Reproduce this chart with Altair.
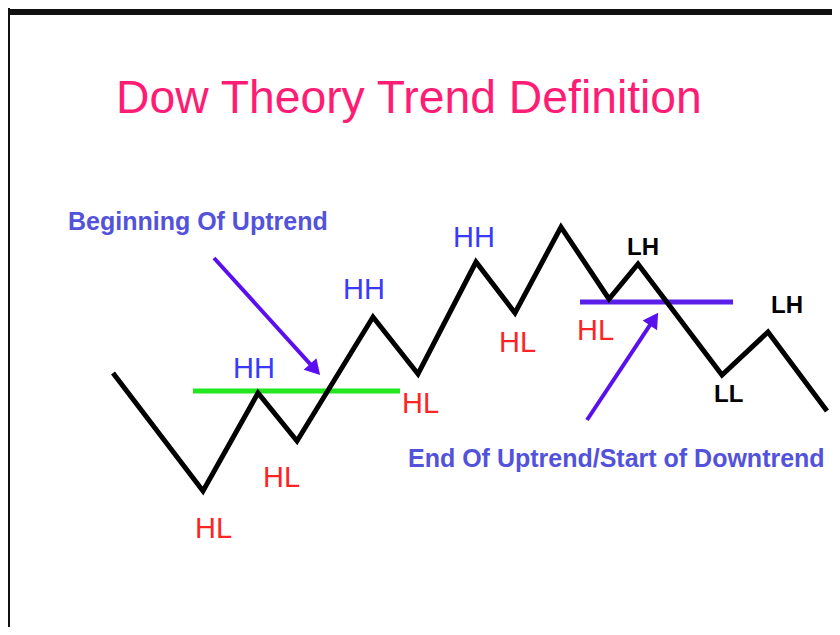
import altair as alt
import pandas as pd

# Price path (x = time position, price = level; higher price = higher on chart)
path_x = [113, 203, 258, 297, 373, 418, 476, 515, 561, 609, 638, 722, 768, 827]
path_price = [262, 144, 242, 194, 318, 261, 373, 322, 408, 336, 371, 260, 303, 224]

# Horizontal reference levels
level_x = [193, 580]
level_x2 = [400, 733]
level_price = [244, 333]
level_color = ["#22E61E", "#5B1FEA"]

# Arrows (start -> head)
arrow_x = [214, 587]
arrow_price = [377, 215]
arrow_x2 = [313.4, 652.6]
arrow_price2 = [267.3, 313.8]
arrow_angle = [137.8, 33.6]

# Frame
frame_x = [8, 8]
frame_x2 = [832, 8]
frame_price = [623, 627]
frame_price2 = [623, 8]
frame_w = [6, 4]

# Regular text
reg_text = ["Dow Theory Trend Definition",
            "HH", "HH", "HH",
            "HL", "HL", "HL", "HL", "HL"]
reg_x = [116, 233, 343, 453, 195, 263, 402, 499, 577]
reg_price = [522, 257, 336, 388, 97, 148, 222, 283, 295]
reg_size = [46.3, 29, 29, 29, 29, 29, 29, 29, 29]
reg_color = ["#FF1C74", "#3A3AFF", "#3A3AFF", "#3A3AFF",
             "#FF2424", "#FF2424", "#FF2424", "#FF2424", "#FF2424"]

# Bold text
bold_text = ["Beginning Of Uptrend", "End Of Uptrend/Start of Downtrend",
             "LH", "LH", "LL"]
bold_x = [68, 408, 627, 771, 714]
bold_price = [405, 168, 380, 322, 233]
bold_size = [25, 25, 24, 24, 24]
bold_color = ["#5252DA", "#5252DA", "#000000", "#000000", "#000000"]

X = alt.Scale(domain=[8, 832])
Y = alt.Scale(domain=[8, 627])

path_df = pd.DataFrame({"x": path_x, "price": path_price, "i": list(range(len(path_x)))})
level_df = pd.DataFrame({"x": level_x, "x2": level_x2, "price": level_price, "c": level_color})
arrow_df = pd.DataFrame({"x": arrow_x, "price": arrow_price, "x2": arrow_x2,
                         "price2": arrow_price2, "angle": arrow_angle})
frame_df = pd.DataFrame({"x": frame_x, "x2": frame_x2, "price": frame_price,
                         "price2": frame_price2, "w": frame_w})
reg_df = pd.DataFrame({"t": reg_text, "x": reg_x, "price": reg_price, "s": reg_size, "c": reg_color})
bold_df = pd.DataFrame({"t": bold_text, "x": bold_x, "price": bold_price, "s": bold_size, "c": bold_color})

ax = dict(axis=None)

frame = alt.Chart(frame_df).mark_rule(color="#111111").encode(
    x=alt.X("x:Q", scale=X, **ax), x2="x2:Q",
    y=alt.Y("price:Q", scale=Y, **ax), y2="price2:Q",
    strokeWidth=alt.StrokeWidth("w:Q", scale=None),
)

levels = alt.Chart(level_df).mark_rule(strokeWidth=5).encode(
    x=alt.X("x:Q", scale=X, **ax), x2="x2:Q",
    y=alt.Y("price:Q", scale=Y, **ax),
    color=alt.Color("c:N", scale=None),
)

path = alt.Chart(path_df).mark_line(color="black", strokeWidth=5, strokeJoin="miter",
                                    strokeCap="butt").encode(
    x=alt.X("x:Q", scale=X, **ax),
    y=alt.Y("price:Q", scale=Y, **ax),
    order="i:Q",
)

shafts = alt.Chart(arrow_df).mark_rule(color="#5A10EE", strokeWidth=4).encode(
    x=alt.X("x:Q", scale=X, **ax), x2="x2:Q",
    y=alt.Y("price:Q", scale=Y, **ax), y2="price2:Q",
)

heads = alt.Chart(arrow_df).mark_point(shape="triangle", filled=True, color="#5A10EE",
                                       size=300, opacity=1).encode(
    x=alt.X("x2:Q", scale=X, **ax),
    y=alt.Y("price2:Q", scale=Y, **ax),
    angle=alt.Angle("angle:Q", scale=None),
)

reg = alt.Chart(reg_df).mark_text(align="left", baseline="alphabetic",
                                  font="Liberation Sans").encode(
    x=alt.X("x:Q", scale=X, **ax),
    y=alt.Y("price:Q", scale=Y, **ax),
    text="t:N",
    size=alt.Size("s:Q", scale=None),
    color=alt.Color("c:N", scale=None),
)

bold = alt.Chart(bold_df).mark_text(align="left", baseline="alphabetic",
                                    font="Liberation Sans", fontWeight="bold").encode(
    x=alt.X("x:Q", scale=X, **ax),
    y=alt.Y("price:Q", scale=Y, **ax),
    text="t:N",
    size=alt.Size("s:Q", scale=None),
    color=alt.Color("c:N", scale=None),
)

chart = alt.layer(frame, levels, path, shafts, heads, reg, bold).properties(
    width=824, height=619, padding=0, autosize="none", background="white"
).configure_view(stroke=None)

chart.save("out.html", embed_options={"renderer": "svg", "actions": False})
